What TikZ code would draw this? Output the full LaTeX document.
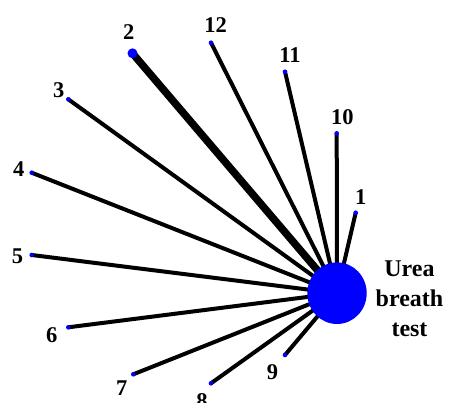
\documentclass[tikz,border=0pt]{standalone}
\usepackage{fontspec}
\setmainfont{Liberation Serif}
\usepackage{xcolor}
\usetikzlibrary{backgrounds,shapes.geometric}
\definecolor{HubBlue}{HTML}{0000FF}

\tikzset{
  trial/.style={circle,fill=HubBlue,inner sep=0pt,minimum size=4.6pt},
  num/.style={font=\fontsize{22.5}{26}\selectfont\bfseries,inner sep=0pt},
  arm/.style={line width=4pt,color=black},
}

\begin{document}
\begin{tikzpicture}[x=1pt,y=-1pt]
    \useasboundingbox (0,0) rectangle (450,402);
    % hub
    \node[ellipse,fill=HubBlue,inner sep=0pt,minimum width=59.4pt,minimum height=61.6pt] (ubt) at (337,293.2) {};
    \node[font=\fontsize{24}{30}\selectfont\bfseries,align=center,inner sep=0pt] (ubtlab) at (409.5,299) {Urea\\breath\\test};
    % trials
    \node[trial] (t1) at (355.7,212.7) {};
    \node[trial,minimum size=10pt] (t2) at (132.5,53.3) {};
    \node[trial] (t3) at (68.3,99.3) {};
    \node[trial] (t4) at (31.7,172.7) {};
    \node[trial] (t5) at (31.7,255) {};
    \node[trial] (t6) at (68.3,327.3) {};
    \node[trial] (t7) at (133.3,374.3) {};
    \node[trial] (t8) at (211,383.3) {};
    \node[trial] (t9) at (285,355) {};
    \node[trial] (t10) at (336.7,133.3) {};
    \node[trial] (t11) at (285,71.7) {};
    \node[trial] (t12) at (211,42.7) {};
    % labels
    \node[num] (l1) at (360.7,196.7) {1};
    \node[num] (l2) at (128.8,32.5) {2};
    \node[num] (l3) at (58.8,90) {3};
    \node[num] (l4) at (18.8,169.3) {4};
    \node[num] (l5) at (17.5,255.8) {5};
    \node[num] (l6) at (51.7,334.7) {6};
    \node[num] (l7) at (121.7,388.5) {7};
    \node[num] (l8) at (202,401) {8};
    \node[num] (l9) at (272.5,371.7) {9};
    \node[num] (l10) at (342.3,116.7) {10};
    \node[num] (l11) at (290,55) {11};
    \node[num] (l12) at (215.5,25.5) {12};
    % arms, behind hub and dots
    \begin{scope}[on background layer]
    \draw[arm] (t1.center) -- (ubt.center);
    \draw[arm,line width=7.5pt] (t2.center) -- (ubt.center);
    \draw[arm] (t3.center) -- (ubt.center);
    \draw[arm] (t4.center) -- (ubt.center);
    \draw[arm] (t5.center) -- (ubt.center);
    \draw[arm] (t6.center) -- (ubt.center);
    \draw[arm] (t7.center) -- (ubt.center);
    \draw[arm] (t8.center) -- (ubt.center);
    \draw[arm] (t9.center) -- (ubt.center);
    \draw[arm] (t10.center) -- (ubt.center);
    \draw[arm] (t11.center) -- (ubt.center);
    \draw[arm] (t12.center) -- (ubt.center);
    \end{scope}
  \end{tikzpicture}
\end{document}
